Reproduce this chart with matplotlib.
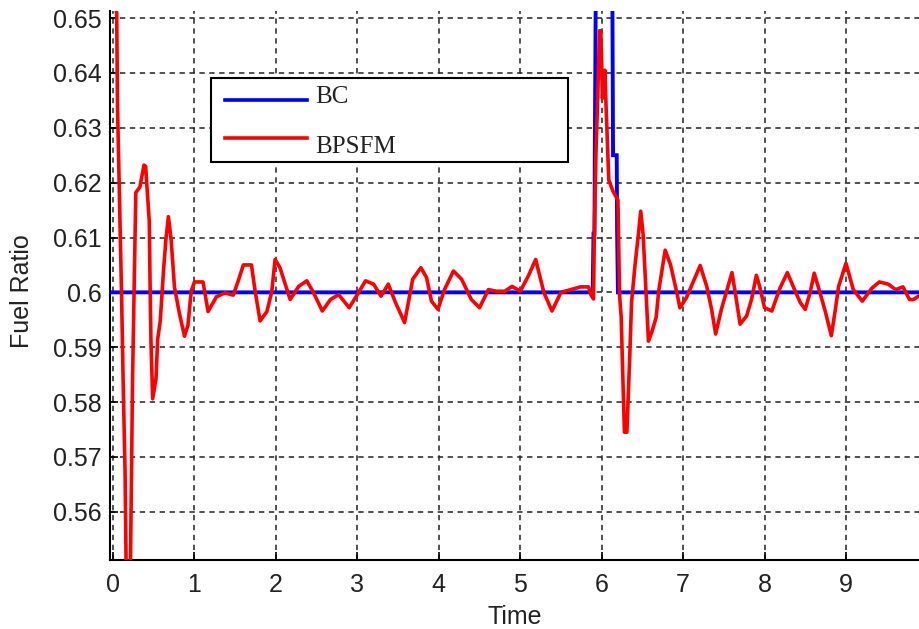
import matplotlib
matplotlib.use("Agg")
import matplotlib.pyplot as plt
from matplotlib.patches import Rectangle
from matplotlib.lines import Line2D

# ---- data ----
series_names = ["BC", "BPSFM"]

bc_time = [-0.04, 5.89, 5.90, 5.912, 5.916, 5.93, 6.13, 6.14, 6.185, 6.19, 6.20, 10.0]
bc_value = [0.6, 0.6, 0.6107, 0.6107, 0.6253, 0.66, 0.66, 0.625, 0.625, 0.611, 0.6, 0.6]

bpsfm_time = [0.02, 0.045, 0.055, 0.08, 0.105, 0.125, 0.148, 0.165, 0.21, 0.227,
              0.24, 0.26, 0.28, 0.33, 0.38, 0.40, 0.445, 0.455, 0.466, 0.487,
              0.528, 0.548, 0.58, 0.623, 0.65, 0.68, 0.713, 0.755, 0.816, 0.878,
              0.92, 0.96, 1.0, 1.105, 1.167, 1.27, 1.373, 1.476, 1.54, 1.60,
              1.70, 1.745, 1.806, 1.89, 1.95, 1.99, 2.05, 2.175, 2.28, 2.38,
              2.46, 2.57, 2.67, 2.77, 2.9, 3.0, 3.1, 3.2, 3.29, 3.38,
              3.47, 3.58, 3.68, 3.78, 3.85, 3.91, 3.99, 4.07, 4.18, 4.28,
              4.4, 4.5, 4.61, 4.71, 4.81, 4.9, 5.0, 5.1, 5.19, 5.29,
              5.39, 5.5, 5.62, 5.74, 5.84, 5.87, 5.90, 5.91, 5.93, 5.95,
              5.975, 5.99, 6.01, 6.04, 6.054, 6.0875, 6.1375, 6.2, 6.22, 6.24,
              6.26, 6.28, 6.31, 6.346, 6.367, 6.41, 6.45, 6.48, 6.51, 6.575,
              6.617, 6.67, 6.7, 6.78, 6.846, 6.93, 6.96, 7.04, 7.12, 7.21,
              7.29, 7.35, 7.40, 7.47, 7.53, 7.60, 7.64, 7.70, 7.78, 7.84,
              7.90, 7.94, 8.0, 8.09, 8.19, 8.28, 8.36, 8.44, 8.5, 8.56,
              8.61, 8.68, 8.75, 8.82, 8.87, 8.91, 9.0, 9.09, 9.2, 9.32,
              9.41, 9.52, 9.61, 9.70, 9.78, 9.83, 9.9, 10.0]
bpsfm_value = [0.653, 0.651, 0.634, 0.6165, 0.5995, 0.5833, 0.5673, 0.545, 0.545, 0.5673,
               0.5843, 0.6009, 0.6182, 0.6192, 0.6232, 0.623, 0.613, 0.6016, 0.591, 0.5806,
               0.5843, 0.5914, 0.5948, 0.6046, 0.6097, 0.6138, 0.6097, 0.6009, 0.5961, 0.592,
               0.594, 0.6002, 0.6019, 0.6019, 0.5965, 0.5992, 0.5999, 0.5995, 0.6022, 0.605,
               0.605, 0.6002, 0.5948, 0.5965, 0.6002, 0.606, 0.6045, 0.5987, 0.6011, 0.6021,
               0.6, 0.5966, 0.5987, 0.5996, 0.5972, 0.5996, 0.6021, 0.6015, 0.5993, 0.6015,
               0.5981, 0.5945, 0.6024, 0.6045, 0.6027, 0.5984, 0.5969, 0.6005, 0.6039, 0.6024,
               0.5987, 0.5972, 0.6005, 0.6002, 0.6002, 0.6011, 0.6002, 0.603, 0.606, 0.6,
               0.5966, 0.6, 0.6005, 0.601, 0.601, 0.5995, 0.5988, 0.611, 0.6253, 0.6348,
               0.6477, 0.6477, 0.6354, 0.6405, 0.6341, 0.6205, 0.6185, 0.6168, 0.5995, 0.5955,
               0.5846, 0.5745, 0.5745, 0.5887, 0.5982, 0.605, 0.6104, 0.6148, 0.6104, 0.5911,
               0.5928, 0.5955, 0.6002, 0.6077, 0.605, 0.5995, 0.5972, 0.599, 0.6018, 0.6049,
               0.6011, 0.5969, 0.5924, 0.5969, 0.6, 0.6036, 0.6, 0.5942, 0.5957, 0.5987,
               0.6031, 0.6011, 0.5972, 0.5966, 0.6008, 0.6036, 0.6008, 0.5981, 0.5969, 0.6,
               0.6035, 0.6, 0.5963, 0.5921, 0.5969, 0.6011, 0.6053, 0.6005, 0.5984, 0.6008,
               0.6019, 0.6015, 0.6005, 0.601, 0.5987, 0.5987, 0.5994, 0.6]

x_ticks = [0, 1, 2, 3, 4, 5, 6, 7, 8, 9]
y_ticks = [0.56, 0.57, 0.58, 0.59, 0.6, 0.61, 0.62, 0.63, 0.64, 0.65]
y_tick_labels = ["0.56", "0.57", "0.58", "0.59", "0.6", "0.61", "0.62", "0.63", "0.64", "0.65"]

# ---- figure ----
W, H = 919, 629
fig = plt.figure(figsize=(W / 100, H / 100), dpi=100)
fig.patch.set_facecolor("white")

def fx(px):
    return px / W

def fy(py):
    return (H - py) / H

left_px, right_px, top_px, bot_px = 110, 927.4, 11, 560
ax = fig.add_axes([fx(left_px), fy(bot_px), fx(right_px) - fx(left_px), fy(top_px) - fy(bot_px)])

ax.plot(bc_time, bc_value, color="#0000FF", lw=2.8, zorder=3, solid_joinstyle="miter")
ax.plot(bpsfm_time, bpsfm_value, color="#FF0000", lw=2.6, zorder=4)

ax.set_xlim(-0.037, 10.0)
ax.set_ylim(0.5512, 0.6513)
ax.set_xticks(x_ticks)
ax.set_yticks(y_ticks)
ax.set_yticklabels(y_tick_labels)

for s in ["top", "right"]:
    ax.spines[s].set_visible(False)
for s in ["left", "bottom"]:
    ax.spines[s].set_linewidth(1.5)
    ax.spines[s].set_color("black")

ax.grid(True, color="#222222", linestyle=(0, (3.5, 3.0)), linewidth=1.1)
ax.set_axisbelow(True)

ax.tick_params(direction="in", length=6, width=1.2, colors="black",
               labelsize=18, pad=6)
for lab in ax.get_xticklabels() + ax.get_yticklabels():
    lab.set_fontfamily("Liberation Sans")
    lab.set_color("#222222")
ax.tick_params(axis="x", pad=9)

ax.set_xlabel("Time", fontsize=18, family="Liberation Sans", color="#222222")
ax.set_ylabel("Fuel Ratio", fontsize=18, family="Liberation Sans", color="#222222")
# place axis labels at their pixel positions
ax.xaxis.set_label_coords((515 - left_px) / (right_px - left_px), -(617 - bot_px) / (bot_px - top_px))
ax.xaxis.label.set_va("center")
ax.yaxis.set_label_coords(-(left_px - 22) / (right_px - left_px), (bot_px - 291) / (bot_px - top_px))
ax.yaxis.label.set_va("center")

# ---- legend ----
fig.add_artist(Rectangle((fx(211), fy(162)), fx(568) - fx(211), fy(78) - fy(162),
                         transform=fig.transFigure, facecolor="white",
                         edgecolor="black", lw=1.5, zorder=10))
legend_colors = ["#0000FF", "#FF0000"]
legend_line_y = [100, 138]
legend_text_y = [103, 153]
for name, col, ly, ty in zip(series_names, legend_colors, legend_line_y, legend_text_y):
    fig.add_artist(Line2D([fx(225), fx(307)], [fy(ly), fy(ly)], transform=fig.transFigure,
                          color=col, lw=2.6, zorder=11))
    fig.text(fx(315), fy(ty), name, fontsize=18, family="Liberation Serif",
             va="baseline", ha="left", color="#222222", zorder=12)

fig.savefig("out.png", dpi=100, facecolor="white")
